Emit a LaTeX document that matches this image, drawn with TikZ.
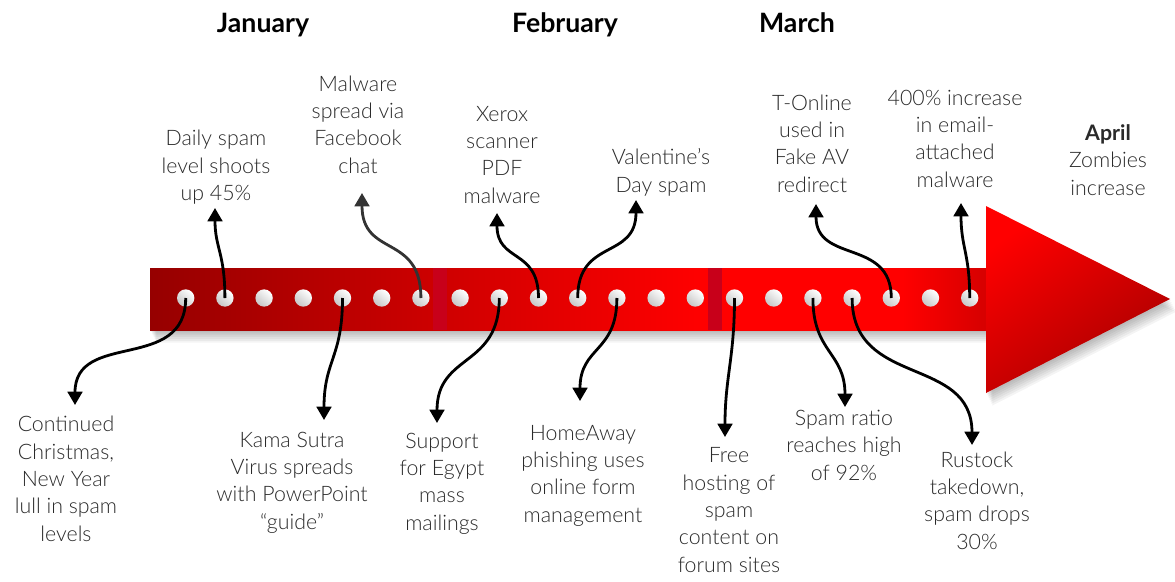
\documentclass[tikz,border=0pt]{standalone}
\usepackage{fontspec}
\IfFontExistsTF{Lato Light}
 {\setmainfont{Lato Light}[BoldFont={Lato Bold}]}
 {\IfFontExistsTF{Fira Sans Light}
   {\setmainfont{Fira Sans Light}[BoldFont={Fira Sans Bold}]}
   {\setmainfont{Lato}}}
\usetikzlibrary{arrows.meta}
\definecolor{bA}{HTML}{960000}
\definecolor{bB}{HTML}{DD0000}
\definecolor{bC}{HTML}{FF0000}
\definecolor{bD}{HTML}{D60000}
\definecolor{hiR}{HTML}{FF0000}
\definecolor{loR}{HTML}{A80000}
\definecolor{divc}{HTML}{C8001A}
\definecolor{txt}{HTML}{2A2A2A}
\pgfdeclarehorizontalshading{barshade}{100bp}{color(0bp)=(bA); color(25bp)=(bA); color(47bp)=(bB); color(58bp)=(bC); color(70bp)=(bC); color(75bp)=(bD); color(100bp)=(bD)}
\begin{document}
\begin{tikzpicture}[x=0.75pt,y=-0.75pt,
  lbl/.style={align=center, font=\fontsize{16}{20.5}\selectfont, text=txt, inner sep=0pt, anchor=base},
  month/.style={font=\fontsize{20}{24}\selectfont\bfseries, text=black, inner sep=0pt, anchor=base},
  dot/.style={circle, inner sep=0pt, minimum size=13pt, shade, shading=axis, top color=white, bottom color=black!22, shading angle=-40},
  conn/.style={line width=2.1pt, black, -{Triangle[width=11pt,length=10pt]}},
  divider/.style={fill=divc}]
\useasboundingbox (0,0) rectangle (1175,582);

% shadow
\foreach \i in {1,...,7}{
  \begin{scope}[shift={(\i*0.9,\i*1.8)}]
    \fill[black,opacity=0.045] (150,268) -- (986,268) -- (986,206) -- (1170,299) -- (986,393) -- (986,330) -- (150,330) -- cycle;
  \end{scope}
}
% bar and head
\shade[shading=barshade] (150,268) rectangle (986,330);
\shade[top color=hiR, bottom color=loR, shading angle=35] (986,206) -- (1170,299) -- (986,393) -- cycle;
\fill[divider] (433,268) rectangle (447,330);
\fill[divider] (708,268) rectangle (722,330);

% dots
\foreach \i in {1,...,21}{
  \node[dot] (d\i) at ({185.7+(\i-1)*39.2},298) {};
}

% months
\node[month] (jan) at (263,32) {January};
\node[month] (feb) at (565,32) {February};
\node[month] (mar) at (797,32) {March};

% labels top (anchor = baseline of last line)
\node[lbl] (daily) at (216,200.6) {Daily spam\\level shoots\\up 45\%};
\node[lbl] (malw) at (358,173) {Malware\\spread via\\Facebook\\chat};
\node[lbl] (xerox) at (502,203) {Xerox\\scanner\\PDF\\malware};
\node[lbl] (valen) at (661,192) {Valentine’s\\Day spam};
\node[lbl] (tonl) at (812,192) {T-Online\\used in\\Fake AV\\redirect};
\node[lbl] (four) at (955,187) {400\% increase\\in email-\\attached\\malware};
\node[lbl] (april) at (1108,195) {\textbf{April}\\Zombies\\increase};
% labels bottom
\node[lbl] (cont) at (66,541) {Continued\\Christmas,\\New Year\\lull in spam\\levels};
\node[lbl] (kama) at (292,529) {Kama Sutra\\Virus spreads\\with PowerPoint\\“guide”};
\node[lbl] (supp) at (442,530) {Support\\for Egypt\\mass\\mailings};
\node[lbl] (home) at (583,522) {HomeAway\\phishing uses\\online form\\management};
\node[lbl] (free) at (729,572) {Free\\hosting of\\spam\\content on\\forum sites};
\node[lbl] (ratio) at (844,480) {Spam ratio\\reaches high\\of 92\%};
\node[lbl] (rust) at (977,549) {Rustock\\takedown,\\spam drops\\30\%};

% arrow tips
\coordinate (tdaily) at (215,208);
\coordinate (tmalw) at (362,193);
\coordinate (txerox) at (497,213);
\coordinate (tvalen) at (636,200);
\coordinate (ttonl) at (816,204);
\coordinate (tfour) at (961,203);
\coordinate (tcont) at (75,405);
\coordinate (tkama) at (324,420);
\coordinate (tsupp) at (437,423);
\coordinate (thome) at (580,401);
\coordinate (tfree) at (725,437);
\coordinate (tratio) at (845,407);
\coordinate (trust) at (972,445);

% connectors up
\draw[conn] (d2.center) .. controls +(0,-45) and +(0,40) .. (tdaily);
\draw[conn, black!80] (d7.center) .. controls +(0,-65) and +(0,65) .. (tmalw);
\draw[conn] (d10.center) .. controls +(0,-50) and +(0,50) .. (txerox);
\draw[conn] (d11.center) .. controls +(0,-60) and +(0,60) .. (tvalen);
\draw[conn] (d19.center) .. controls +(0,-60) and +(0,60) .. (ttonl);
\draw[conn] (d21.center) .. controls +(0,-45) and +(0,45) .. (tfour);
% connectors down
\draw[conn] (d1.center) .. controls +(0,75) and +(0,-75) .. (tcont);
\draw[conn] (d5.center) .. controls +(0,60) and +(0,-60) .. (tkama);
\draw[conn] (d9.center) .. controls +(0,70) and +(0,-70) .. (tsupp);
\draw[conn] (d12.center) .. controls +(0,55) and +(0,-55) .. (thome);
\draw[conn] (d15.center) .. controls +(0,60) and +(0,-60) .. (tfree);
\draw[conn] (d17.center) .. controls +(0,55) and +(0,-55) .. (tratio);
\draw[conn] (d18.center) .. controls +(0,90) and +(0,-90) .. (trust);
\end{tikzpicture}
\end{document}
